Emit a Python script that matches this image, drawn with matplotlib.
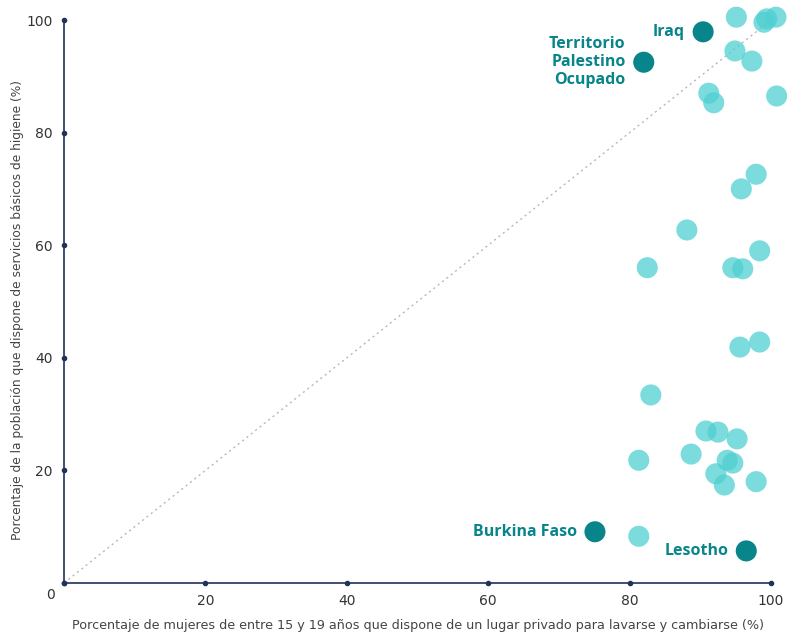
import matplotlib
matplotlib.use('Agg')
import matplotlib.pyplot as plt

# light points (other countries)
other_x = [95.1, 99.0, 99.4, 100.7, 94.9, 97.3, 91.2, 91.9, 100.8,
           97.9, 95.8, 88.1, 98.4, 82.5, 94.6, 96.0,
           83.0, 98.4, 95.6, 90.8, 92.5, 95.2, 81.3, 88.7, 93.8, 94.6,
           92.2, 93.4, 97.9, 81.3]
other_y = [100.5, 99.6, 100.2, 100.5, 94.5, 92.7, 87.0, 85.3, 86.5,
           72.6, 70.0, 62.7, 59.0, 56.0, 56.0, 55.8,
           33.4, 42.8, 41.9, 27.0, 26.8, 25.6, 21.8, 22.9, 21.8, 21.3,
           19.4, 17.4, 18.0, 8.3]

# highlighted countries
hl_names = ['Iraq', 'Territorio\nPalestino\nOcupado', 'Burkina Faso', 'Lesotho']
hl_x = [90.4, 82.0, 75.1, 96.5]
hl_y = [97.9, 92.5, 9.1, 5.7]

ticks = [0, 20, 40, 60, 80, 100]

navy = '#1d3557'
light = '#4fcfd2'
dark = '#07858a'

fig = plt.figure(figsize=(7.87, 6.37), dpi=100)
ax = fig.add_axes([64/787, 54/637, 707/787, 563/637])

ax.plot([0, 100], [0, 100], linestyle=(0, (1.5, 2.5)), color='#b5b9bf', lw=1, zorder=1)
ax.scatter(other_x, other_y, s=230, color=light, alpha=0.75, edgecolors='none', zorder=2, clip_on=False)
ax.scatter(hl_x, hl_y, s=230, color=dark, edgecolors='none', zorder=3, clip_on=False)

for name, x, y in zip(hl_names, hl_x, hl_y):
    ax.annotate(name, (x, y), xytext=(-13, 0), textcoords='offset points',
                ha='right', va='center', color=dark, fontsize=11.5, fontweight='bold',
                family='Open Sans', linespacing=1.15)

ax.set_xlim(0, 100)
ax.set_ylim(0, 100)
for s in ['top', 'right']:
    ax.spines[s].set_visible(False)
for s in ['left', 'bottom']:
    ax.spines[s].set_color(navy)
    ax.spines[s].set_linewidth(1.2)

# dots on the axes at tick positions
ax.plot(ticks, [0]*len(ticks), 'o', color=navy, ms=3, clip_on=False, zorder=4)
ax.plot([0]*len(ticks), ticks, 'o', color=navy, ms=3, clip_on=False, zorder=4)

ax.set_xticks(ticks)
ax.set_yticks(ticks)
ax.set_xticklabels([''] + [str(t) for t in ticks[1:]])
ax.set_yticklabels([''] + [str(t) for t in ticks[1:]])
ax.tick_params(length=0, labelsize=10, colors='#333333')
ax.tick_params(axis='x', pad=8)
ax.tick_params(axis='y', pad=8)
ax.text(-1.3, -0.8, '0', ha='right', va='top', fontsize=10, color='#333333')

ax.set_xlabel('Porcentaje de mujeres de entre 15 y 19 años que dispone de un lugar privado para lavarse y cambiarse (%)',
              fontsize=9.2, color='#444444', labelpad=8)
ax.set_ylabel('Porcentaje de la población que dispone de servicios básicos de higiene (%)',
              fontsize=8.8, color='#444444')
ax.yaxis.set_label_coords(-0.057, 0.485)

plt.savefig('out.png', dpi=100)
